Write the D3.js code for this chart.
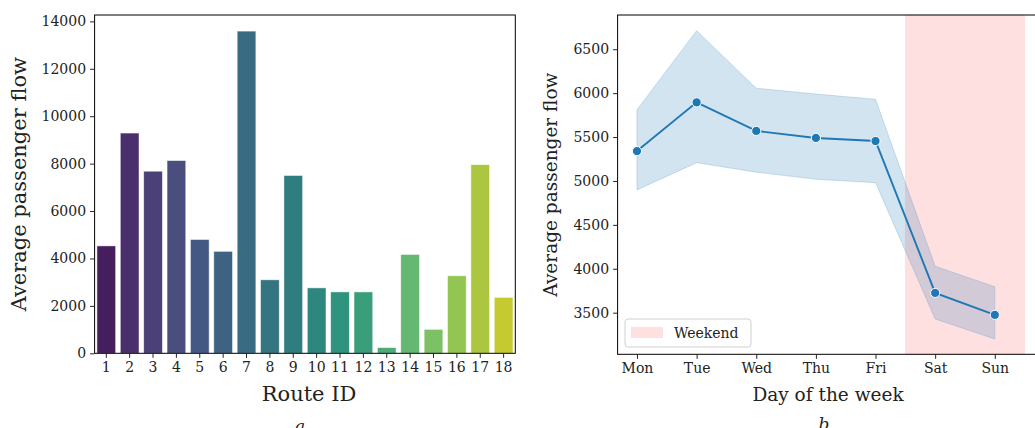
<!DOCTYPE html>
<html>
<head>
<meta charset="utf-8">
<script src="https://cdn.jsdelivr.net/npm/d3@7"></script>
<style>
  html, body { margin: 0; padding: 0; background: #fff; }
  svg { display: block; font-family: "DejaVu Serif", serif; }
  .tick text { fill: #222; }
</style>
</head>
<body>
<svg id="chart" width="1035" height="428"></svg>
<script>
// Panel a: average passenger flow per route
const routes = ["1","2","3","4","5","6","7","8","9","10","11","12","13","14","15","16","17","18"];
const routeFlow = [4530, 9290, 7680, 8130, 4800, 4300, 13590, 3100, 7500, 2760, 2590, 2590, 240, 4170, 1010, 3270, 7960, 2360];
const routeTicks = [0, 2000, 4000, 6000, 8000, 10000, 12000, 14000];

// Panel b: average passenger flow per weekday, with confidence band
const days = ["Mon", "Tue", "Wed", "Thu", "Fri", "Sat", "Sun"];
const dayMean  = [5340, 5895, 5570, 5490, 5455, 3725, 3475];
const dayUpper = [5810, 6712, 6056, 5990, 5930, 4028, 3796];
const dayLower = [4898, 5208, 5100, 5019, 4981, 3428, 3200];
const dayTicks = [3500, 4000, 4500, 5000, 5500, 6000, 6500];
const weekendSpan = [4.5, 6.5];

const svg = d3.select("#chart");
const ink = "#222";

// ---------- Panel a ----------
const A = { left: 94.6, right: 515.3, top: 15, bottom: 353.3 };
const xa = d3.scaleBand().domain(routes).range([A.left, A.right]).paddingInner(0.2).paddingOuter(0.1);
const ya = d3.scaleLinear().domain([0, d3.max(routeFlow) * 1.05]).range([A.bottom, A.top]);

const palette = routes.map((r, i) => {
  const c = d3.hsl(d3.interpolateViridis((i + 1) / (routes.length + 1)));
  c.s *= 0.75;
  return c.formatHex();
});

const ga = svg.append("g");
ga.selectAll("rect.bar").data(routes).join("rect")
  .attr("class", "bar")
  .attr("x", d => xa(d))
  .attr("width", xa.bandwidth())
  .attr("y", (d, i) => ya(routeFlow[i]))
  .attr("height", (d, i) => ya(0) - ya(routeFlow[i]))
  .attr("fill", (d, i) => palette[i])
  .attr("stroke", "#ffffff")
  .attr("stroke-opacity", 0.6)
  .attr("stroke-width", 0.8);

ga.append("rect")
  .attr("x", A.left).attr("y", A.top)
  .attr("width", A.right - A.left).attr("height", A.bottom - A.top)
  .attr("fill", "none").attr("stroke", "#000").attr("stroke-width", 1);

const axA_x = ga.append("g").attr("transform", `translate(0,${A.bottom})`)
  .call(d3.axisBottom(xa).tickSize(4.5).tickPadding(4));
const axA_y = ga.append("g").attr("transform", `translate(${A.left},0)`)
  .call(d3.axisLeft(ya).tickValues(routeTicks).tickSize(4.5).tickPadding(4).tickFormat(d3.format("d")));
[axA_x, axA_y].forEach(g => {
  g.select(".domain").remove();
  g.selectAll(".tick line").attr("stroke", ink).attr("stroke-width", 1);
  g.selectAll(".tick text").attr("font-size", 14).attr("font-family", "DejaVu Serif");
});

ga.append("text")
  .attr("x", 309).attr("y", 401)
  .attr("text-anchor", "middle").attr("font-size", 21).attr("fill", ink)
  .text("Route ID");
ga.append("text")
  .attr("transform", `translate(26,${(A.top + A.bottom) / 2}) rotate(-90)`)
  .attr("text-anchor", "middle").attr("font-size", 21).attr("fill", ink)
  .text("Average passenger flow");
ga.append("text")
  .attr("x", 300).attr("y", 432)
  .attr("text-anchor", "middle").attr("font-size", 17).attr("font-style", "italic").attr("fill", ink)
  .text("a");

// ---------- Panel b ----------
const B = { left: 617.6, right: 1044, top: 15, bottom: 354.3 };
const xb = d3.scaleLinear().domain([-0.325, 6.825]).range([B.left, B.right]);
const yb = d3.scaleLinear().domain([3026, 6890]).range([B.bottom, B.top]);

const gb = svg.append("g");
const blue = "#1f77b4";

gb.append("rect")
  .attr("x", xb(weekendSpan[0])).attr("y", B.top)
  .attr("width", xb(weekendSpan[1]) - xb(weekendSpan[0]))
  .attr("height", B.bottom - B.top)
  .attr("fill", "#ff0000").attr("fill-opacity", 0.12)
  .attr("stroke", "#ff0000").attr("stroke-opacity", 0.05);

const band = d3.area()
  .x((d, i) => xb(i))
  .y0((d, i) => yb(dayLower[i]))
  .y1((d, i) => yb(dayUpper[i]));
gb.append("path").datum(days)
  .attr("d", band)
  .attr("fill", blue).attr("fill-opacity", 0.2)
  .attr("stroke", blue).attr("stroke-opacity", 0.2).attr("stroke-width", 1);

const line = d3.line().x((d, i) => xb(i)).y((d, i) => yb(dayMean[i]));
gb.append("path").datum(days)
  .attr("d", line)
  .attr("fill", "none").attr("stroke", blue).attr("stroke-width", 1.9);

gb.selectAll("circle.pt").data(days).join("circle")
  .attr("class", "pt")
  .attr("cx", (d, i) => xb(i))
  .attr("cy", (d, i) => yb(dayMean[i]))
  .attr("r", 4.6)
  .attr("fill", blue).attr("stroke", "#fff").attr("stroke-width", 1);

gb.append("rect")
  .attr("x", B.left).attr("y", B.top)
  .attr("width", B.right - B.left).attr("height", B.bottom - B.top)
  .attr("fill", "none").attr("stroke", "#000").attr("stroke-width", 1);

const axB_x = gb.append("g").attr("transform", `translate(0,${B.bottom})`)
  .call(d3.axisBottom(xb).tickValues(d3.range(days.length)).tickFormat(i => days[i]).tickSize(4.5).tickPadding(4));
const axB_y = gb.append("g").attr("transform", `translate(${B.left},0)`)
  .call(d3.axisLeft(yb).tickValues(dayTicks).tickSize(4.5).tickPadding(4).tickFormat(d3.format("d")));
[axB_x, axB_y].forEach(g => {
  g.select(".domain").remove();
  g.selectAll(".tick line").attr("stroke", ink).attr("stroke-width", 1);
  g.selectAll(".tick text").attr("font-size", 14).attr("font-family", "DejaVu Serif");
});

gb.append("text")
  .attr("x", 828).attr("y", 401)
  .attr("text-anchor", "middle").attr("font-size", 18.5).attr("fill", ink)
  .text("Day of the week");
gb.append("text")
  .attr("transform", `translate(557,${(B.top + B.bottom) / 2}) rotate(-90)`)
  .attr("text-anchor", "middle").attr("font-size", 18.5).attr("fill", ink)
  .text("Average passenger flow");
gb.append("text")
  .attr("x", 824).attr("y", 430)
  .attr("text-anchor", "middle").attr("font-size", 17).attr("font-style", "italic").attr("fill", ink)
  .text("b");

// Legend
const lg = gb.append("g").attr("transform", "translate(625,319)");
lg.append("rect")
  .attr("width", 126).attr("height", 28).attr("rx", 3)
  .attr("fill", "#fff").attr("fill-opacity", 0.8)
  .attr("stroke", "#d0d0d0").attr("stroke-width", 1);
lg.append("rect")
  .attr("x", 6).attr("y", 8).attr("width", 32).attr("height", 11)
  .attr("fill", "#ff0000").attr("fill-opacity", 0.12);
lg.append("text")
  .attr("x", 49).attr("y", 18.5)
  .attr("font-size", 14).attr("fill", ink)
  .text("Weekend");
</script>
</body>
</html>
